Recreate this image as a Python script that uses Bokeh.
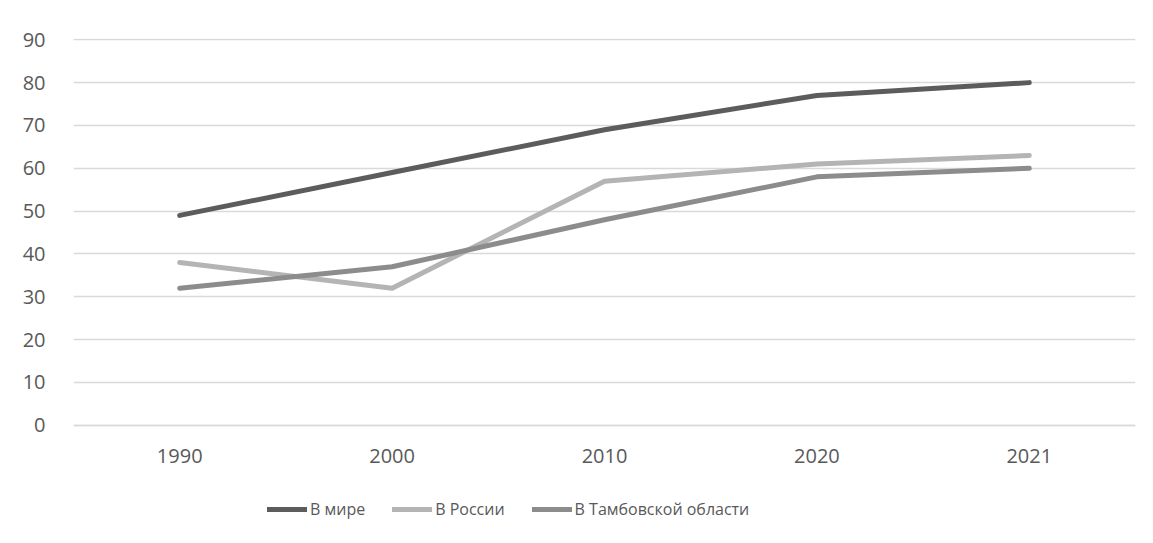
from bokeh.plotting import figure
from bokeh.models import Range1d, FactorRange, Legend, LegendItem, FixedTicker
from bokeh.embed import file_html
from bokeh.resources import INLINE

years = ["1990", "2000", "2010", "2020", "2021"]
world = [49, 59, 69, 77, 80]
russia = [38, 32, 57, 61, 63]
tambov = [32, 37, 48, 58, 60]
names = ["В мире", "В России", "В Тамбовской области"]
colors = ["#5c5c5c", "#b4b4b4", "#8c8c8c"]
y_ticks = [0, 10, 20, 30, 40, 50, 60, 70, 80, 90]

FONT = "Open Sans"
TXT = "#595959"

p = figure(frame_width=1062, frame_height=484, x_range=FactorRange(*years, range_padding=0),
           y_range=Range1d(-22.69, 90.3), output_backend="svg", toolbar_location=None,
           min_border_left=73, min_border_right=10, min_border_top=38, min_border_bottom=0)
p.outline_line_color = None
p.background_fill_color = "white"
p.border_fill_color = "white"

p.xgrid.grid_line_color = None
p.ygrid.grid_line_color = "#d9d9d9"
p.ygrid.grid_line_width = 1.3
p.yaxis.ticker = FixedTicker(ticks=y_ticks)

for ax in (p.xaxis[0], p.yaxis[0]):
    ax.major_tick_line_color = None
    ax.minor_tick_line_color = None
    ax.major_label_text_font = FONT
    ax.major_label_text_font_size = "20px"
    ax.major_label_text_color = TXT
p.yaxis.axis_line_color = None
p.yaxis.major_label_standoff = 22
p.xaxis.fixed_location = 0
p.xaxis.axis_line_color = "#d9d9d9"
p.xaxis.axis_line_width = 1.3
p.xaxis.major_label_standoff = 18

renderers = []
for vals, c in zip([world, russia, tambov], colors):
    r = p.line(years, vals, line_color=c, line_width=5, line_cap="round", line_join="round")
    renderers.append(r)

legend = Legend(items=[LegendItem(label=n, renderers=[r]) for n, r in zip(names, renderers)],
                orientation="horizontal", location=(194, 2),
                label_text_font=FONT, label_text_font_size="16px", label_text_color=TXT,
                glyph_width=40, glyph_height=20, label_height=20, label_standoff=3,
                spacing=27, margin=0, padding=0,
                border_line_color=None, background_fill_alpha=0)
p.add_layout(legend, "center")

open("out.html", "w").write(file_html(p, INLINE))
